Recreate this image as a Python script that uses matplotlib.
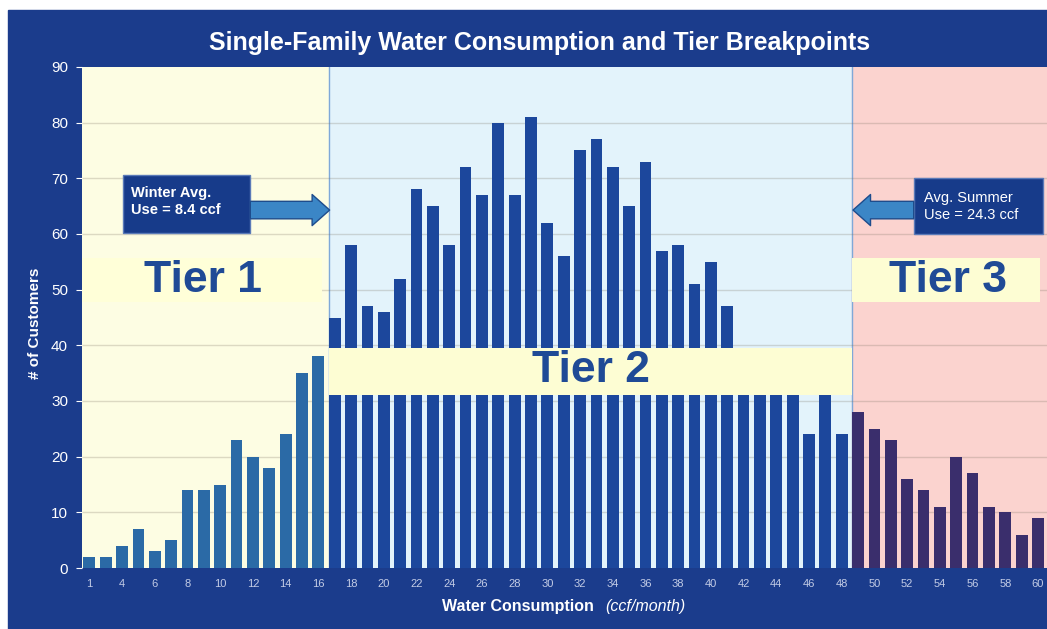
import numpy as np
import matplotlib.pyplot as plt
from matplotlib.patches import Rectangle

plt.rcParams['font.family'] = ['Liberation Sans', 'DejaVu Sans']

# ccf/month bin of every bar (first bin is the "1" bin)
ccf = [1, 3, 4, 5, 6, 7, 8, 9, 10, 11, 12, 13, 14, 15, 16,
       17, 18, 19, 20, 21, 22, 23, 24, 25, 26, 27, 28, 29, 30, 31, 32,
       33, 34, 35, 36, 37, 38, 39, 40, 41, 42, 43, 44, 45, 46, 47, 48,
       49, 50, 51, 52, 53, 54, 55, 56, 57, 58, 59, 60]

# number of customers per bin, split by tier
tier1 = [2, 2, 4, 7, 3, 5, 14, 14, 15, 23, 20, 18, 24, 35, 38]
tier2 = [45, 58, 47, 46, 52, 68, 65, 58, 72, 67, 80, 67, 81, 62, 56, 75,
         77, 72, 65, 73, 57, 58, 51, 55, 47, 38, 36, 34, 33, 24, 32, 24]
tier3 = [28, 25, 23, 16, 14, 11, 20, 17, 11, 10, 6, 9]

counts = tier1 + tier2 + tier3
bar_cols = ['#2b6aa6'] * len(tier1) + ['#1c479c'] * len(tier2) + ['#3a2e6c'] * len(tier3)
x = np.arange(len(counts))
w = 0.72

panel = '#1b3c8c'
fig = plt.figure(figsize=(10.47, 6.29), dpi=100)
bg = Rectangle((8 / 1047, 0), 1, 619 / 629, transform=fig.transFigure, color=panel, zorder=-5)
fig.add_artist(bg)
ax = fig.add_axes([82 / 1047, 61 / 629, 965 / 1047, 501 / 629])
ax.set_zorder(2)

x0, x1 = -0.45, 58.55
b1 = len(tier1) - w / 2
b2 = len(tier1) + len(tier2) - w / 2

# tier backgrounds
ax.axvspan(x0, b1, color='#fdfde3', zorder=0)
ax.axvspan(b1, b2, color='#e3f3fb', zorder=0)
ax.axvspan(b2, x1, color='#fbd3cf', zorder=0)
for b in (b1, b2):
    ax.axvline(b, color='#7fa8d8', lw=1, zorder=0.5)
for yv in range(10, 90, 10):
    ax.axhline(yv, color='#7a7060', alpha=0.25, lw=1, zorder=1)

ax.bar(x, counts, width=w, color=bar_cols, zorder=2)

# tier labels
tier_font = dict(color='#1f4a96', fontsize=32, fontweight='bold', ha='center', va='center', zorder=5)
ax.add_patch(Rectangle((x0, 47.8), 14.7, 7.9, fc='#ffffd8', ec='none', zorder=3))
ax.text(6.97, 51.6, 'Tier 1', **tier_font)
ax.add_patch(Rectangle((b1, 31), b2 - b1, 8.6, fc='#fdfdd3', ec='none', zorder=3))
ax.text((b1 + b2) / 2, 35.4, 'Tier 2', **tier_font)
ax.add_patch(Rectangle((b2, 47.8), x1 - b2 - 0.4, 7.9, fc='#fdfdd3', ec='none', zorder=3))
ax.text(52.5, 51.6, 'Tier 3', **tier_font)

# average-use callouts
arrow = dict(arrowstyle='simple,head_width=1.6,head_length=0.9,tail_width=0.9',
             mutation_scale=14, fc='#3b86c6', ec='#1e4c8c', lw=1, shrinkA=0, shrinkB=0)
ax.add_patch(Rectangle((2.08, 60.1), 7.76, 10.5, fc='#173b8a', ec='#5a7ab8', lw=1, zorder=4))
ax.text(2.57, 65.8, 'Winter Avg.\nUse = 8.4 ccf', color='white', fontsize=10.5,
        fontweight='bold', ha='left', va='center', linespacing=1.3, zorder=5)
ax.annotate('', xy=(b1 + 0.05, 64.3), xytext=(9.84, 64.3), arrowprops=arrow, zorder=4)

ax.add_patch(Rectangle((50.4, 60.0), 7.9, 10.0, fc='#173b8a', ec='#5a7ab8', lw=1, zorder=4))
ax.text(51.0, 65.0, 'Avg. Summer\nUse = 24.3 ccf', color='white', fontsize=10.5,
        ha='left', va='center', linespacing=1.3, zorder=5)
ax.annotate('', xy=(b2 + 0.05, 64.3), xytext=(50.4, 64.3), arrowprops=arrow, zorder=4)

ax.set_xlim(x0, x1)
ax.set_ylim(0, 90)
ax.set_yticks(range(0, 100, 10))
ax.set_xticks(x[::2])
ax.set_xticklabels([str(c) for c in ccf[::2]])
ax.tick_params(axis='y', colors='white', labelsize=11, length=4, pad=6)
ax.tick_params(axis='x', colors='#c3cce6', labelsize=8, length=0, pad=8)
for s in ax.spines.values():
    s.set_visible(False)

fig.text(0.515, 0.932, 'Single-Family Water Consumption and Tier Breakpoints',
         color='white', fontsize=18, fontweight='bold', ha='center', va='center')
fig.text(35 / 1047, 1 - 323 / 629, '# of Customers', rotation=90, color='white',
         fontsize=11, fontweight='bold', ha='center', va='center')
fig.text(442 / 1047, 1 - 607 / 629, 'Water Consumption', color='white', fontsize=11.5,
         fontweight='bold', ha='left', va='center')
fig.text(605 / 1047, 1 - 607 / 629, '(ccf/month)', color='white', fontsize=11.5,
         fontstyle='italic', ha='left', va='center')

fig.savefig('out.png', dpi=100)
